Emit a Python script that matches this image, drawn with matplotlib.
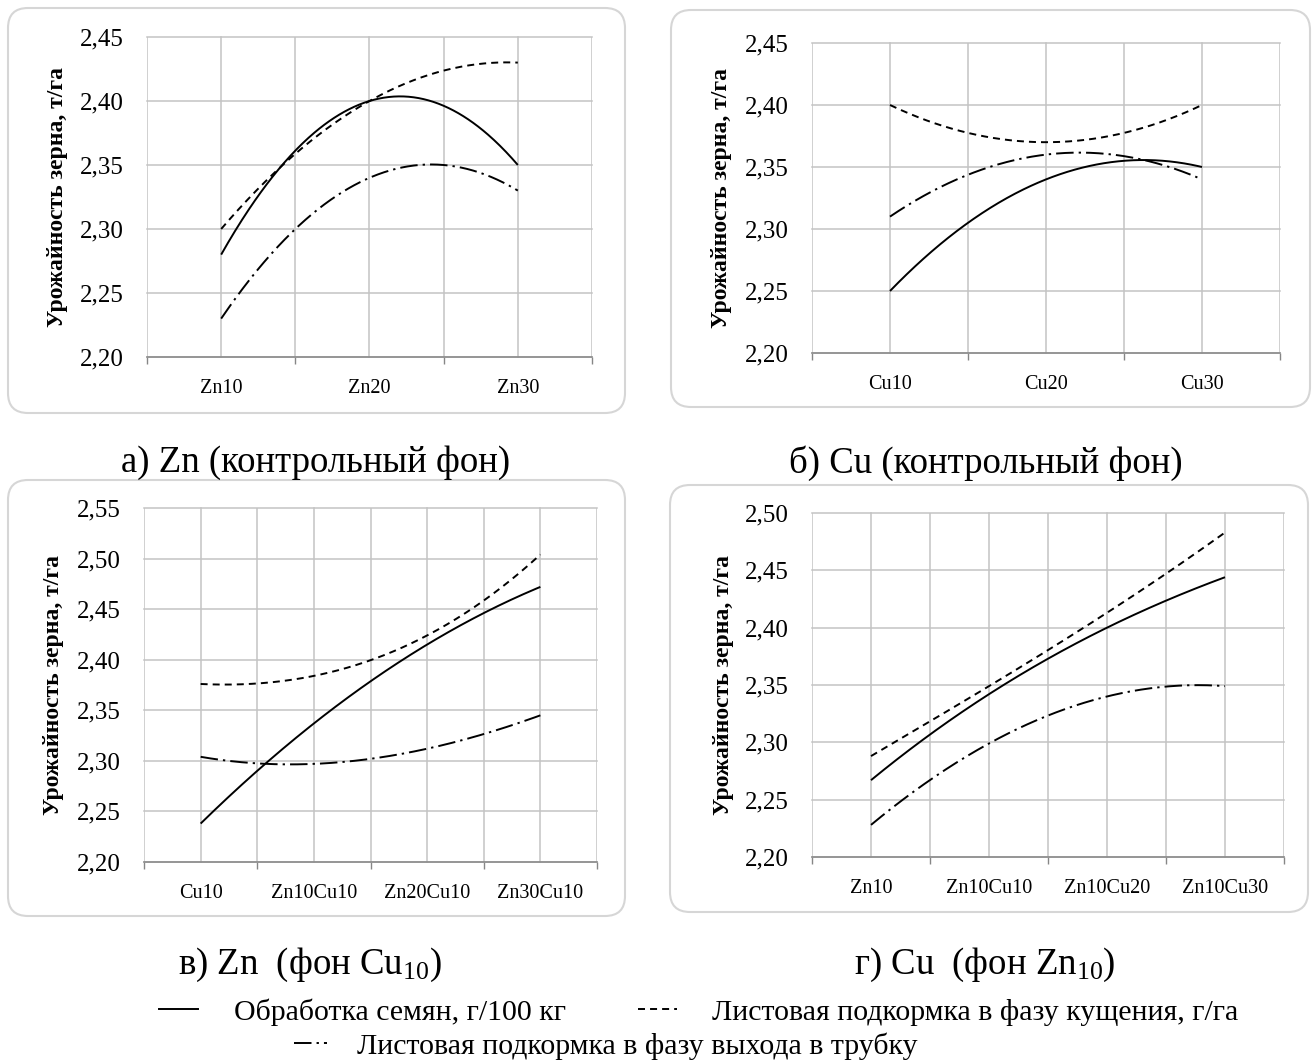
import numpy as np
import matplotlib
matplotlib.use('Agg')
import matplotlib.pyplot as plt
from matplotlib.patches import FancyBboxPatch
from matplotlib.lines import Line2D
from matplotlib.ticker import FuncFormatter

plt.rcParams['font.family'] = ['Liberation Serif', 'DejaVu Serif']
plt.rcParams['mathtext.fontset'] = 'custom'
plt.rcParams['mathtext.rm'] = 'Liberation Serif'
plt.rcParams['mathtext.it'] = 'Liberation Serif'
plt.rcParams['mathtext.bf'] = 'Liberation Serif:bold'

# ---------------- data ----------------
cats_a = ['Zn10', 'Zn20', 'Zn30']
a_seed = [2.28, 2.40, 2.35]
a_till = [2.30, 2.40, 2.43]
a_boot = [2.23, 2.34, 2.33]

cats_b = ['Cu10', 'Cu20', 'Cu30']
b_seed = [2.25, 2.34, 2.35]
b_till = [2.40, 2.37, 2.40]
b_boot = [2.31, 2.36, 2.34]

cats_c = ['Cu10', 'Zn10Cu10', 'Zn20Cu10', 'Zn30Cu10']
c_seed = [2.238, 2.337, 2.415, 2.472]
c_till = [2.376, 2.384, 2.424, 2.504]
c_boot = [2.304, 2.297, 2.312, 2.345]

cats_d = ['Zn10', 'Zn10Cu10', 'Zn10Cu20', 'Zn10Cu30']
d_seed = [2.267, 2.342, 2.400, 2.444]
d_till = [2.288, 2.349, 2.413, 2.483]
d_boot = [2.228, 2.299, 2.340, 2.349]

ylabel = 'Урожайность зерна, т/га'
captions = ['а) Zn (контрольный фон)', 'б) Cu (контрольный фон)',
            'в) Zn  (фон Cu$_{10}$)', 'г) Cu  (фон Zn$_{10}$)']
legend_labels = ['Обработка семян, г/100 кг',
                 'Листовая подкормка в фазу кущения, г/га',
                 'Листовая подкормка в фазу выхода в трубку']

# ---------------- styles ----------------
W, H = 1316, 1064
LW = 1.4
STY_SEED = '-'
STY_TILL = (0, (3.6, 2.6))
STY_BOOT = (0, (9.0, 2.6, 1.2, 2.6))
GRID = '#c3c3c3'
AXC = '#868686'

fig = plt.figure(figsize=(W / 100, H / 100), dpi=100)
fig.patch.set_facecolor('white')


def box(x1, y1, x2, y2):
    p = FancyBboxPatch((x1 / 100, (H - y2) / 100), (x2 - x1) / 100, (y2 - y1) / 100,
                       boxstyle='round,pad=0,rounding_size=0.2',
                       transform=fig.dpi_scale_trans, facecolor='white',
                       edgecolor='#d6d6d6', lw=1.5, zorder=0)
    fig.add_artist(p)


box(8, 8, 625, 413)
box(671, 10, 1310, 407)
box(8, 480, 625, 916)
box(670, 485, 1308, 912)


def panel(left, right, top, bottom, cats, series, ymin, ymax, lab_x):
    ax = fig.add_axes([left / W, 1 - bottom / H, (right - left) / W, (bottom - top) / H])
    ax.set_facecolor('none')
    n = len(cats)
    x = np.arange(1, n + 1)
    xs = np.linspace(1, n, 300)
    for vals, sty in series:
        coef = np.polyfit(x, vals, n - 1)
        ax.plot(xs, np.polyval(coef, xs), color='black', lw=LW, linestyle=sty,
                solid_capstyle='butt', dash_capstyle='butt')
    ax.set_xlim(0.5, n + 0.5)
    ax.set_ylim(ymin, ymax)
    ax.set_xticks(x)
    ax.set_xticklabels(cats, fontsize=14.5)
    ax.set_xticks(np.arange(0.5, n + 1, 1.0), minor=True)
    ax.tick_params(axis='x', which='major', length=0, pad=16)
    ax.tick_params(axis='x', which='minor', length=5, width=1, color=AXC, direction='out')
    ax.set_yticks(np.arange(ymin, ymax + 1e-9, 0.05))
    ax.yaxis.set_major_formatter(FuncFormatter(lambda v, p: f'{v:.2f}'.replace('.', ',')))
    ax.tick_params(axis='y', length=0, pad=17, labelsize=18)
    ax.grid(True, which='both', axis='x', color=GRID, lw=1.1)
    ax.grid(True, which='major', axis='y', color=GRID, lw=1.1)
    for gl in ax.get_xgridlines() + ax.get_ygridlines() + ax.xaxis.get_minorticklines():
        gl.set_clip_on(False)
    ax.set_axisbelow(True)
    for s in ['top', 'right', 'left']:
        ax.spines[s].set_visible(False)
    ax.spines['bottom'].set_color(AXC)
    ax.spines['bottom'].set_linewidth(1.1)
    ax.set_ylabel(ylabel, fontsize=17, fontweight='bold')
    ax.yaxis.set_label_coords((lab_x - left) / (right - left), 0.5)
    ax.yaxis.label.set_verticalalignment('center')
    return ax


panel(147, 592, 37, 357, cats_a,
      [(a_seed, STY_SEED), (a_till, STY_TILL), (a_boot, STY_BOOT)], 2.20, 2.45, 58)
panel(812, 1280, 43, 353, cats_b,
      [(b_seed, STY_SEED), (b_till, STY_TILL), (b_boot, STY_BOOT)], 2.20, 2.45, 722)
panel(144, 597, 508, 862, cats_c,
      [(c_seed, STY_SEED), (c_till, STY_TILL), (c_boot, STY_BOOT)], 2.20, 2.55, 54)
panel(812, 1284, 513, 857, cats_d,
      [(d_seed, STY_SEED), (d_till, STY_TILL), (d_boot, STY_BOOT)], 2.20, 2.50, 723)

cap_pos = [(316, 463), (986, 463), (310, 965), (985, 965)]
for (cx, cy), t in zip(cap_pos, captions):
    fig.text(cx / W, 1 - cy / H, t, fontsize=26.5, ha='center', va='center')

h1 = Line2D([], [], color='black', lw=LW, linestyle=STY_SEED)
h2 = Line2D([], [], color='black', lw=LW, linestyle=STY_TILL)
h3 = Line2D([], [], color='black', lw=LW, linestyle=STY_BOOT)
fig.legend([h1, h2], legend_labels[:2], loc='center', bbox_to_anchor=(699 / W, 1 - 1012 / H),
           ncol=2, frameon=False, fontsize=21.5, handlelength=1.3, handletextpad=1.2,
           columnspacing=2.4, borderpad=0.1)
fig.legend([h3], legend_labels[2:], loc='center', bbox_to_anchor=(606 / W, 1 - 1046 / H),
           ncol=1, frameon=False, fontsize=21.5, handlelength=1.1, handletextpad=1.0,
           borderpad=0.1)

fig.savefig('out.png', dpi=100, facecolor='white')
